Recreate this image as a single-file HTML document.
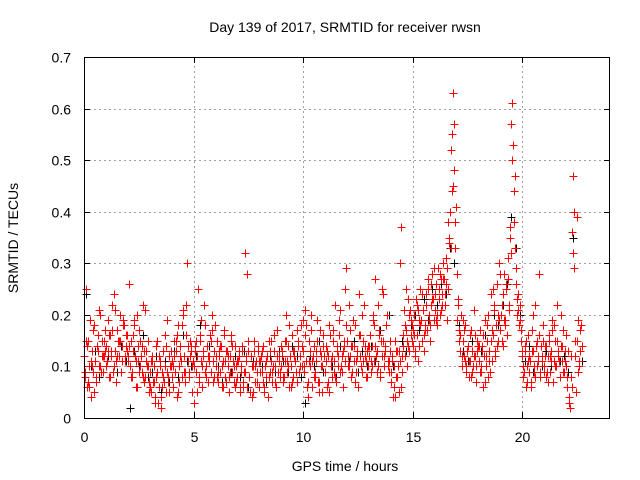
<!DOCTYPE html>
<html><head><meta charset="utf-8">
<style>
body{margin:0;background:#fff}
svg{display:block;font-family:"Liberation Sans",sans-serif}
</style></head>
<body>
<svg id="chart" width="640" height="480" viewBox="0 0 640 480">
<rect width="640" height="480" fill="#fff"/>
<text x="345" y="32" font-size="14" text-anchor="middle">Day 139 of 2017, SRMTID for receiver rwsn</text>
<text transform="translate(18,238) rotate(-90)" font-size="14" text-anchor="middle">SRMTID / TECUs</text>
<text x="345" y="471" font-size="14" text-anchor="middle">GPS time / hours</text>
<g id="grid"></g>
<g id="ticks"></g>
<g id="black-series"></g>
<g id="red-series"></g>
<rect x="84.5" y="57.5" width="525" height="361" fill="none" stroke="#000" stroke-width="1"/>
</svg>
<script>
const xTicks=[0,5,10,15,20];
const yTicks=[0,0.1,0.2,0.3,0.4,0.5,0.6,0.7];
const yTickLabels=["0","0.1","0.2","0.3","0.4","0.5","0.6","0.7"];
const redAStart=0, redAStep=0.05;
const redA=[
0.12,0.08,0.25,0.06,0.15,0.10,0.04,0.13,0.09,0.18,0.11,0.07,0.14,0.16,0.10,0.20,0.12,0.09,0.15,0.13,
0.14,0.11,0.19,0.08,0.16,0.12,0.22,0.10,0.13,0.07,0.17,0.15,0.12,0.20,0.09,0.14,0.18,0.11,0.16,0.13,
0.12,0.26,0.10,0.15,0.08,0.13,0.19,0.11,0.06,0.14,0.17,0.10,0.12,0.09,0.22,0.13,0.08,0.11,0.15,0.07,
0.09,0.05,0.12,0.07,0.10,0.03,0.08,0.15,0.06,0.11,0.04,0.09,0.13,0.07,0.10,0.05,0.19,0.08,0.12,0.10,
0.11,0.06,0.15,0.09,0.13,0.04,0.18,0.10,0.14,0.08,0.20,0.12,0.07,0.16,0.30,0.11,0.09,0.15,0.13,0.10,
0.03,0.14,0.09,0.12,0.25,0.08,0.15,0.11,0.06,0.13,0.18,0.10,0.14,0.07,0.12,0.16,0.09,0.20,0.11,0.13,
0.10,0.15,0.07,0.12,0.09,0.14,0.06,0.11,0.17,0.08,0.13,0.10,0.05,0.12,0.16,0.09,0.11,0.07,0.14,0.10,
0.08,0.12,0.05,0.10,0.14,0.07,0.09,0.32,0.11,0.06,0.13,0.08,0.12,0.04,0.10,0.15,0.07,0.11,0.09,0.13,
0.06,0.11,0.09,0.14,0.05,0.10,0.08,0.12,0.04,0.15,0.09,0.11,0.07,0.13,0.10,0.06,0.17,0.09,0.12,0.08,
0.10,0.13,0.07,0.11,0.20,0.09,0.14,0.06,0.12,0.10,0.16,0.08,0.13,0.11,0.07,0.15,0.09,0.12,0.18,0.10,
0.13,0.09,0.21,0.11,0.04,0.15,0.10,0.17,0.06,0.12,0.14,0.08,0.11,0.19,0.07,0.13,0.10,0.05,0.16,0.12,
0.09,0.14,0.06,0.12,0.18,0.10,0.08,0.15,0.11,0.22,0.07,0.13,0.10,0.16,0.09,0.12,0.06,0.14,0.11,0.29,
0.15,0.10,0.22,0.12,0.08,0.14,0.11,0.18,0.09,0.13,0.06,0.16,0.12,0.10,0.20,0.11,0.14,0.08,0.13,0.10,
0.12,0.16,0.09,0.14,0.20,0.11,0.27,0.13,0.10,0.17,0.08,0.15,0.12,0.24,0.10,0.14,0.18,0.11,0.09,0.13,
0.07,0.12,0.04,0.10,0.15,0.08,0.13,0.05,0.11,0.37,0.09,0.14,0.21,0.12,0.17,0.10,0.23,0.13,0.19,0.15,
0.14,0.20,0.12,0.23,0.16,0.11,0.19,0.25,0.15,0.21,0.13,0.18,0.24,0.17,0.27,0.20,0.15,0.22,0.28,0.19,
0.21,0.26,0.18,0.29,0.23,0.20,0.27,0.24,0.30,0.22,0.26,0.19,0.25,0.35,0.40,0.33,0.55,0.63,0.48,0.38,
0.28,0.22,0.17,0.13,0.20,0.10,0.15,0.12,0.18,0.09,0.14,0.11,0.16,0.08,0.13,0.10,0.21,0.12,0.07,0.15,
0.11,0.17,0.09,0.14,0.06,0.12,0.19,0.10,0.15,0.08,0.13,0.24,0.11,0.16,0.21,0.13,0.18,0.26,0.15,0.30,
0.17,0.22,0.14,0.28,0.19,0.25,0.16,0.31,0.21,0.37,0.57,0.61,0.44,0.33,0.26,0.20,0.24,0.18,0.22,0.15,
0.12,0.08,0.14,0.06,0.10,0.16,0.09,0.11,0.07,0.13,0.20,0.10,0.08,0.15,0.12,0.28,0.09,0.14,0.11,0.18,
0.10,0.14,0.08,0.12,0.16,0.09,0.13,0.19,0.07,0.11,0.15,0.10,0.22,0.12,0.08,0.14,0.11,0.17,0.09,0.13,
0.10,0.06,0.13,0.03,0.08,0.36,0.47,0.40,0.12,0.05,0.15,0.19,0.11,0.17,0.14];
const redBStart=0.025, redBStep=0.1;
const redB=[
0.09,0.14,0.06,0.11,0.17,0.08,0.13,0.10,0.15,0.12,
0.10,0.16,0.13,0.09,0.21,0.12,0.15,0.11,0.18,0.14,
0.11,0.08,0.16,0.12,0.20,0.09,0.14,0.07,0.13,0.10,
0.06,0.11,0.04,0.09,0.12,0.02,0.08,0.14,0.07,0.10,
0.08,0.12,0.16,0.07,0.11,0.21,0.09,0.14,0.12,0.05,
0.10,0.15,0.07,0.19,0.12,0.09,0.14,0.11,0.17,0.08,
0.12,0.09,0.14,0.06,0.11,0.13,0.08,0.15,0.10,0.07,
0.11,0.06,0.13,0.09,0.28,0.08,0.12,0.05,0.10,0.14,
0.09,0.13,0.06,0.11,0.08,0.15,0.10,0.07,0.12,0.09,
0.12,0.08,0.15,0.10,0.06,0.13,0.11,0.17,0.09,0.14,
0.10,0.18,0.07,0.13,0.11,0.09,0.15,0.05,0.12,0.14,
0.11,0.07,0.16,0.12,0.09,0.14,0.19,0.10,0.13,0.25,
0.12,0.17,0.09,0.14,0.11,0.24,0.10,0.15,0.12,0.08,
0.14,0.10,0.18,0.12,0.22,0.09,0.15,0.13,0.20,0.11,
0.09,0.06,0.13,0.10,0.30,0.12,0.18,0.15,0.20,0.16,
0.17,0.13,0.21,0.18,0.24,0.16,0.22,0.19,0.26,0.23,
0.24,0.20,0.28,0.22,0.27,0.31,0.38,0.52,0.45,0.33,
0.19,0.15,0.12,0.17,0.10,0.14,0.11,0.09,0.16,0.13,
0.14,0.10,0.16,0.12,0.20,0.09,0.17,0.22,0.14,0.19,
0.20,0.24,0.18,0.27,0.35,0.50,0.38,0.29,0.21,0.17,
0.10,0.13,0.07,0.12,0.17,0.09,0.14,0.11,0.08,0.15,
0.12,0.09,0.15,0.11,0.18,0.10,0.13,0.08,0.14,0.11,
0.08,0.04,0.12,0.32,0.15,0.09,0.13];
const redCStart=0.075, redCStep=0.1;
const redC=[
0.15,0.07,0.19,0.10,0.05,0.14,0.21,0.09,0.12,0.17,
0.13,0.08,0.17,0.24,0.11,0.15,0.09,0.19,0.12,0.16,
0.14,0.09,0.18,0.06,0.11,0.15,0.08,0.21,0.10,0.05,
0.11,0.07,0.14,0.03,0.10,0.06,0.16,0.09,0.05,0.13,
0.10,0.15,0.05,0.12,0.18,0.09,0.22,0.08,0.14,0.11,
0.13,0.05,0.16,0.10,0.22,0.08,0.12,0.15,0.07,0.18,
0.08,0.13,0.10,0.16,0.07,0.12,0.09,0.14,0.06,0.11,
0.13,0.09,0.06,0.12,0.15,0.05,0.10,0.13,0.07,0.11,
0.12,0.07,0.10,0.04,0.13,0.09,0.16,0.06,0.11,0.14,
0.08,0.15,0.11,0.18,0.07,0.12,0.09,0.14,0.10,0.19,
0.16,0.06,0.11,0.20,0.08,0.13,0.07,0.17,0.10,0.09,
0.13,0.05,0.11,0.17,0.08,0.12,0.21,0.09,0.15,0.18,
0.10,0.14,0.19,0.07,0.12,0.16,0.09,0.22,0.11,0.14,
0.11,0.19,0.14,0.09,0.16,0.25,0.12,0.18,0.10,0.15,
0.11,0.04,0.08,0.13,0.06,0.16,0.25,0.14,0.21,0.18,
0.16,0.22,0.14,0.19,0.21,0.17,0.25,0.18,0.23,0.29,
0.19,0.25,0.21,0.27,0.24,0.29,0.34,0.44,0.57,0.41,
0.23,0.16,0.19,0.11,0.13,0.08,0.17,0.12,0.10,0.14,
0.09,0.13,0.07,0.18,0.11,0.15,0.25,0.12,0.20,0.28,
0.15,0.19,0.26,0.22,0.32,0.53,0.47,0.23,0.19,0.13,
0.09,0.15,0.11,0.06,0.13,0.22,0.10,0.16,0.12,0.09,
0.14,0.07,0.12,0.17,0.10,0.15,0.11,0.20,0.09,0.16,
0.13,0.02,0.06,0.29,0.39,0.10,0.18];
const blackStart=0.1, blackStep=0.2;
const blackVals=[
0.24,0.10,0.13,0.08,0.15, 0.12,0.17,0.09,0.14,0.11, 0.02,0.13,0.10,0.16,0.08,
0.09,0.12,0.05,0.11,0.07, 0.13,0.08,0.16,0.11,0.10, 0.12,0.18,0.09,0.14,0.11,
0.10,0.07,0.13,0.09,0.12, 0.08,0.13,0.06,0.11,0.09, 0.10,0.07,0.12,0.09,0.13,
0.11,0.09,0.14,0.12,0.08, 0.03,0.12,0.10,0.15,0.09, 0.13,0.10,0.08,0.14,0.11,
0.11,0.15,0.09,0.13,0.10, 0.14,0.11,0.17,0.12,0.20, 0.10,0.08,0.15,0.13,0.18,
0.20,0.17,0.23,0.19,0.25, 0.22,0.26,0.24,0.33,0.30, 0.18,0.13,0.11,0.15,0.10,
0.13,0.16,0.11,0.20,0.18, 0.22,0.26,0.39,0.33,0.20, 0.11,0.14,0.09,0.12,0.10,
0.13,0.10,0.15,0.11,0.12, 0.09,0.35,0.15,0.11];

const NS="http://www.w3.org/2000/svg";
const X0=84,X1=610,Y0=418,Y1=57,XMAX=24,YMAX=0.7;
function sx(v){return X0+(v/XMAX)*(X1-X0);}
function sy(v){return Y0-(v/YMAX)*(Y0-Y1);}
function mk(tag,attrs,parent){const e=document.createElementNS(NS,tag);for(const k in attrs)e.setAttribute(k,attrs[k]);parent.appendChild(e);return e;}
const grid=document.getElementById('grid'),ticks=document.getElementById('ticks');
xTicks.forEach((t,i)=>{
  const x=Math.round(sx(t))+0.5;
  if(t>0){const g=mk('line',{x1:x,y1:Y0,x2:x,y2:Y1,stroke:'#a0a0a0','stroke-dasharray':'2,3'},grid);
  
  }
  const a=mk('line',{x1:x,y1:Y0,x2:x,y2:Y0-6,stroke:'#000'},ticks);
  
  
  const b=mk('line',{x1:x,y1:Y1,x2:x,y2:Y1+6,stroke:'#000'},ticks);
  
  
  const l=mk('text',{x:x,y:442,'font-size':14,'text-anchor':'middle'},ticks);
  l.textContent=String(t);
  
  
});
yTicks.forEach((t,i)=>{
  const y=Math.round(sy(t))+0.5;
  if(t>0&&t<YMAX){const g=mk('line',{x1:X0,y1:y,x2:X1,y2:y,stroke:'#a0a0a0','stroke-dasharray':'2,3'},grid);
  
  }
  const a=mk('line',{x1:X0,y1:y,x2:X0+6,y2:y,stroke:'#000'},ticks);
  
  
  const b=mk('line',{x1:X1,y1:y,x2:X1-6,y2:y,stroke:'#000'},ticks);
  
  
  const l=mk('text',{x:71,y:y+5,'font-size':14,'text-anchor':'end'},ticks);
  l.textContent=yTickLabels[i];
  
  
});
function plus(parent,t,v,color,name){
  const x=Math.round(sx(t))+0.5,y=Math.round(sy(v))+0.5;
  const p=mk('path',{d:`M${x-4} ${y}H${x+4}M${x} ${y-4}V${y+4}`,stroke:color,'stroke-width':1,fill:'none'},parent);
  
  
}
const bg=document.getElementById('black-series'),rg=document.getElementById('red-series');
blackVals.forEach((v,i)=>plus(bg,blackStart+i*blackStep,v,'#000','black-point'));
redA.forEach((v,i)=>plus(rg,redAStart+i*redAStep,v,'#f00','red-point'));
redB.forEach((v,i)=>plus(rg,redBStart+i*redBStep,v,'#f00','red-point'));
redC.forEach((v,i)=>plus(rg,redCStart+i*redCStep,v,'#f00','red-point'));
</script>
</body></html>
